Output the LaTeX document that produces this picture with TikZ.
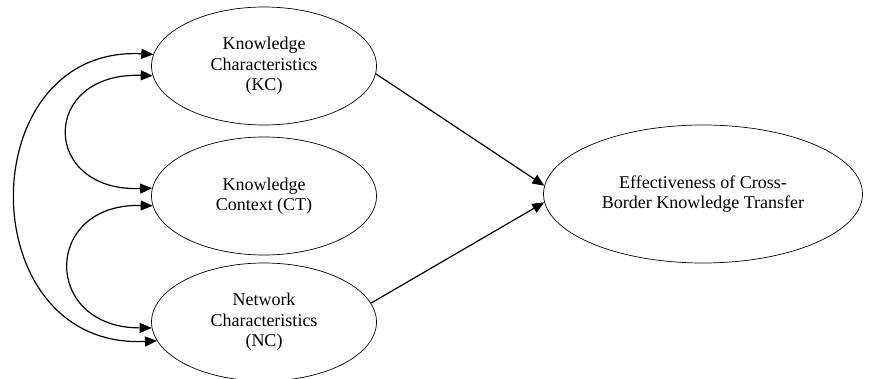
\documentclass[tikz,border=0pt]{standalone}
\usepackage{fontspec}
\setmainfont{Liberation Serif}
\usetikzlibrary{shapes.geometric,arrows.meta}
\tikzset{
  konstrukt/.style={ellipse, draw, line width=0.7pt, inner sep=0pt,
    minimum width=225pt, minimum height=118pt, align=center,
    font=\fontsize{18}{20.5}\selectfont},
  pfeil/.style={line width=1.2pt, -{Triangle[length=12pt,width=10pt]}},
  korr/.style={line width=1.2pt,
    {Triangle[length=12pt,width=10pt]}-{Triangle[length=12pt,width=10pt]}},
}
\begin{document}
\begin{tikzpicture}[x=1pt, y=-1pt]
  \useasboundingbox (0,0) rectangle (877,379);
  % Konstrukte
  \node[konstrukt] (kc) at (264,66) {Knowledge\\Characteristics\\(KC)};
  \node[konstrukt] (ct) at (264,196) {Knowledge\\Context (CT)};
  \node[konstrukt] (nc) at (264,322) {Network\\Characteristics\\(NC)};
  \node[konstrukt, minimum width=319pt, minimum height=138pt] (eff) at (703,194)
    {Effectiveness of Cross-\\Border Knowledge Transfer};
  % Pfade
  \draw[pfeil] (kc.-4) -- (eff.177);
  \draw[pfeil] (nc.10) -- (eff.183);
  % Korrelationen
  \draw[korr] (kc.174) .. controls (-30,45) and (-30,350) .. (nc.190);
  \draw[korr] (kc.185) .. controls (40,72) and (40,192) .. (ct.176);
  \draw[korr] (ct.185) .. controls (42,203) and (42,328) .. (nc.183);
\end{tikzpicture}
\end{document}
